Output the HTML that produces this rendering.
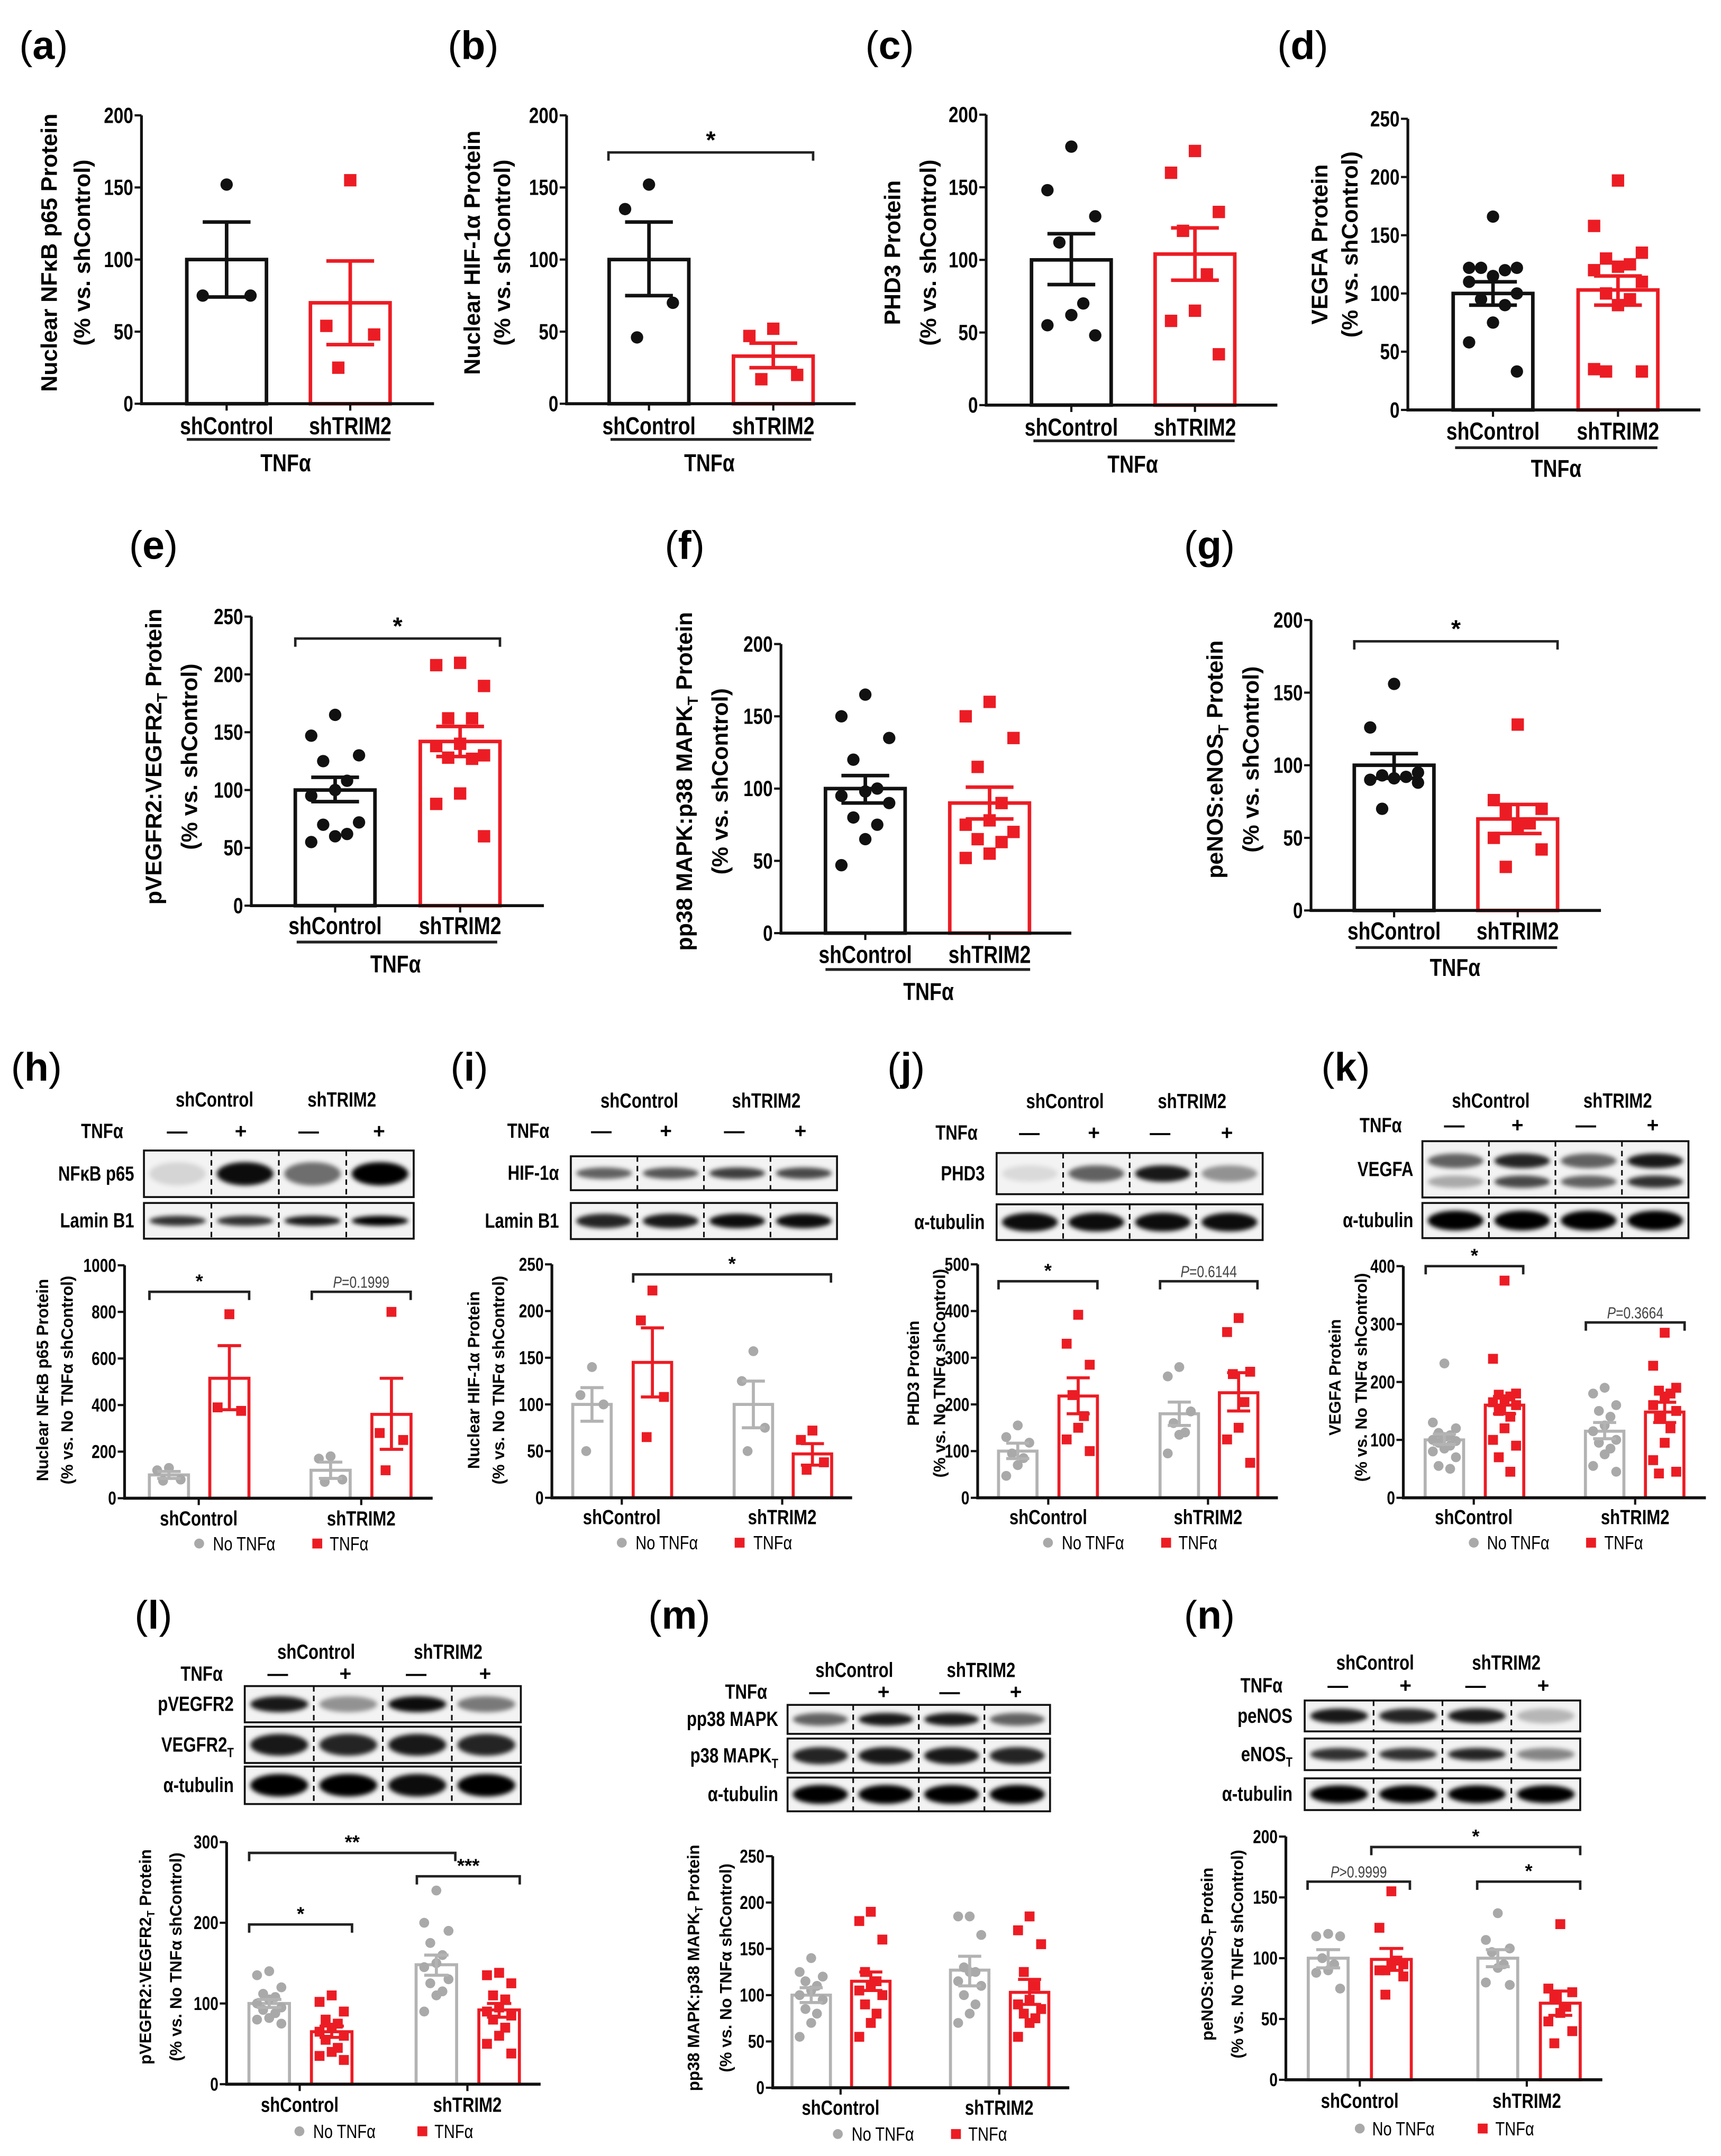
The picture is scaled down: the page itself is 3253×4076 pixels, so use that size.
<!DOCTYPE html>
<html><head><meta charset="utf-8">
<style>
html,body{margin:0;padding:0;background:#fff;}
svg{display:block;}
text{font-family:"Liberation Sans",sans-serif;}
</style></head>
<body>
<svg id="fig" xmlns="http://www.w3.org/2000/svg" width="3253" height="4076" viewBox="0 0 1253 1570" preserveAspectRatio="none">
<defs><filter id="blur" x="-20%" y="-50%" width="140%" height="200%"><feGaussianBlur stdDeviation="1.6"/></filter></defs>
<rect x="0" y="0" width="1253" height="1570" fill="#fff"/>
</svg>
<script>
// ---------- data: top panels (a-g) ----------
const topCats = ["shControl","shTRIM2"];
const a_means=[100,70], a_hi=[126,99], a_lo=[74,41];
const a_pts0=[152,75,75], a_pts1=[155,54,48,25];
const b_means=[100,33], b_hi=[126,42], b_lo=[75,25];
const b_pts0=[152,135,70,46], b_pts1=[52,47,20,17];
const c_means=[100,104], c_hi=[118,122], c_lo=[83,86];
const c_pts0=[178,148,130,112,70,62,55,48], c_pts1=[175,160,133,120,90,65,58,35];
const d_means=[100,103], d_hi=[110,115], d_lo=[90,90];
const d_pts0=[166,122,122,122,120,115,110,100,95,90,75,58,33], d_pts1=[197,158,135,130,125,123,120,110,100,95,90,35,33,33];
const e_means=[100,142], e_hi=[111,155], e_lo=[90,129];
const e_pts0=[165,147,130,125,108,100,95,72,70,62,60,55], e_pts1=[210,208,190,162,162,140,138,130,128,127,97,88,60];
const f_means=[100,90], f_hi=[109,101], f_lo=[90,79];
const f_pts0=[165,150,135,120,100,98,95,90,80,75,65,47], f_pts1=[160,150,135,115,90,78,75,70,65,63,55,52];
const g_means=[100,63], g_hi=[108,73], g_lo=[91,53];
const g_pts0=[156,126,95,93,92,91,90,88,70], g_pts1=[128,76,70,68,60,58,50,42,30];
// ---------- data: lower panels (h-n) ----------
const h_means=[100,515,120,360], h_hi=[115,655,155,515], h_lo=[85,380,85,210];
const h_pts=[[130,120,80,75],[790,390,375],[180,170,80,70],[800,280,250,120]];
const i_means=[100,145,100,47], i_hi=[118,182,125,58], i_lo=[82,108,75,35];
const i_pts=[[140,110,100,50],[222,190,108,65],[157,125,75,50],[72,62,38,30]];
const j_means=[100,218,180,225], j_hi=[117,257,205,268], j_lo=[84,180,155,186];
const j_pts=[[155,130,118,95,85,70,47],[392,330,285,220,175,150,125,100],[280,260,185,160,140,135,95],[385,355,270,265,205,150,125,75]];
const k_means=[100,160,115,148], k_hi=[110,175,130,165], k_lo=[92,145,102,130];
const k_pts=[[232,130,120,112,108,105,100,98,95,90,85,80,70,55,50],[375,240,180,178,175,170,165,160,150,140,120,100,90,70,45],[190,180,160,150,140,125,115,100,95,85,75,55,45],[285,228,190,185,180,175,160,150,140,120,95,65,45,42]];
const l_means=[100,65,148,92], l_hi=[105,72,160,100], l_lo=[95,58,135,83];
const l_pts=[[140,135,120,112,108,105,100,95,92,88,82,80,75],[110,102,90,80,75,70,65,60,55,45,40,35,30],[240,200,190,175,160,150,145,130,125,115,110,90],[138,135,125,110,105,95,90,85,80,70,60,50,38]];
const m_means=[100,115,127,103], m_hi=[108,125,142,117], m_lo=[92,105,110,90];
const m_pts=[[140,125,120,115,110,105,100,95,85,80,70,55],[190,180,160,125,115,110,105,100,90,80,70,55],[185,185,165,130,125,125,115,110,100,90,80,70],[185,170,155,125,110,95,90,85,80,75,70,55]];
const n_means=[100,99,100,63], n_hi=[107,108,107,73], n_lo=[92,90,93,53];
const n_pts=[[120,118,118,100,95,90,88,75],[155,125,95,90,98,95,90,85,70],[137,115,108,105,95,92,80,78],[128,75,72,68,60,55,48,40,30]];

const NS="http://www.w3.org/2000/svg";
const svg=document.getElementById('fig');
const RED="#ec1c24", GRAY="#b3b3b3", GPT="#a9a9a9";
const SQ=0.8;
function mk(tag,attrs,name,parent){
  const e=document.createElementNS(NS,tag);
  for(const k in attrs) e.setAttribute(k,attrs[k]);
  
  
  (parent||svg).appendChild(e);
  return e;
}
function txt(x,y,s,attrs,name,parent){
  attrs=Object.assign({},attrs||{});
  const narrow=attrs.narrow; delete attrs.narrow;
  if(narrow && !attrs.transform) attrs.transform=`translate(${x} ${y}) scale(${SQ} 1) translate(${-x} ${-y})`;
  const t=mk('text',Object.assign({x:x,y:y},attrs),name,parent);
  const parts=s.split('_T');
  parts.forEach((p,i)=>{
    t.appendChild(document.createTextNode(p));
    if(i<parts.length-1){
      const ts=document.createElementNS(NS,'tspan');
      ts.setAttribute('baseline-shift','sub');
      ts.setAttribute('font-size','65%');
      ts.textContent='T';
      t.appendChild(ts);
    }
  });
  return t;
}
function letter(x,y,ch,size){
  const t=mk('text',{x:x,y:y,'font-size':size},'panel-label-'+ch);
  const a=document.createElementNS(NS,'tspan');a.textContent='(';t.appendChild(a);
  const b=document.createElementNS(NS,'tspan');b.setAttribute('font-weight','bold');b.textContent=ch;t.appendChild(b);
  const c=document.createElementNS(NS,'tspan');c.textContent=')';t.appendChild(c);
}
function jitter(i,n,w){
  if(n<=1) return 0;
  const pat=[0,-0.3,0.3,-0.15,0.15];
  return pat[i%5]*w;
}
function sig(g,x1,x2,y,label,fs){
  mk('path',{d:`M${x1},${y+6}V${y}H${x2}V${y+6}`,fill:'none',stroke:'#222','stroke-width':1.8},'significance-bracket',g);
  if(label.startsWith('P')){
    const cx=(x1+x2)/2, cy=y-3;
    const t=mk('text',{x:cx,y:cy,'text-anchor':'middle','font-size':fs*0.85,fill:'#444',transform:`translate(${cx} ${cy}) scale(${SQ} 1) translate(${-cx} ${-cy})`},'p-value-label',g);
    const ti=document.createElementNS(NS,'tspan');ti.setAttribute('font-style','italic');ti.textContent='P';t.appendChild(ti);
    t.appendChild(document.createTextNode(label.slice(1)));
  } else {
    txt((x1+x2)/2,y-3,label,{'text-anchor':'middle','font-size':fs,'font-weight':'bold'},'significance-stars',g);
  }
}
function chart(c){
  const g=mk('g',{},'panel-'+c.id+'-chart');
  const ys=v=>c.y0-(v/c.max)*(c.y0-c.yT);
  c.means.forEach((m,k)=>{
    const cx=c.centers[k], w=c.w, col=c.cols[k];
    mk('rect',{x:cx-w/2,y:ys(m),width:w,height:c.y0-ys(m),fill:'#fff',stroke:col,'stroke-width':c.sw},'bar-'+c.id+'-'+k,g);
  });
  c.means.forEach((m,k)=>{
    const cx=c.centers[k], pts=c.pts[k], col=c.pcols[k];
    pts.forEach((v,i)=>{
      const x=cx+jitter(i,pts.length,c.w), y=ys(v);
      if(c.marks[k]==='c') mk('circle',{cx:x,cy:y,r:c.pr,fill:col},'point-'+c.id+'-'+k,g);
      else mk('rect',{x:x-c.pr,y:y-c.pr,width:2*c.pr,height:2*c.pr,fill:col},'point-'+c.id+'-'+k,g);
    });
  });
  c.means.forEach((m,k)=>{
    const cx=c.centers[k], cw=c.w*0.3, col=c.cols[k];
    mk('path',{d:`M${cx},${ys(c.hi[k])}V${ys(c.lo[k])}M${cx-cw},${ys(c.hi[k])}H${cx+cw}M${cx-cw},${ys(c.lo[k])}H${cx+cw}`,stroke:col,'stroke-width':c.sw,fill:'none'},'error-bar-'+c.id+'-'+k,g);
  });
  mk('line',{x1:c.ax,y1:c.yT,x2:c.ax,y2:c.y0,stroke:'#111','stroke-width':2},'y-axis',g);
  mk('line',{x1:c.ax-1,y1:c.y0,x2:c.xEnd,y2:c.y0,stroke:'#111','stroke-width':2.2},'x-axis',g);
  for(let v=0;v<=c.max+1e-9;v+=c.step){
    mk('line',{x1:c.ax-5,y1:ys(v),x2:c.ax,y2:ys(v),stroke:'#111','stroke-width':1.6},'y-tick',g);
    txt(c.ax-6,ys(v),String(v),{'text-anchor':'end','dominant-baseline':'central','font-size':c.tfs,'font-weight':'bold',narrow:1},'y-tick-label',g);
  }
  c.catX.forEach((x,k)=>{
    mk('line',{x1:x,y1:c.y0,x2:x,y2:c.y0+5,stroke:'#111','stroke-width':1.6},'x-tick',g);
    txt(x,c.catY,topCats[k],{'text-anchor':'middle','dominant-baseline':'central','font-size':c.cfs,'font-weight':'bold',narrow:1},'x-category-label',g);
  });
  const cy=c.tcy;
  c.title.forEach((s,k)=>{
    txt(c.tx[k],cy,s,{'text-anchor':'middle','dominant-baseline':'central','font-size':c.yfs,'font-weight':'bold',transform:`rotate(-90 ${c.tx[k]} ${cy})`},'y-axis-title',g);
  });
  (c.sigs||[]).forEach(s=>sig(g,s[0],s[1],s[2],s[3],c.sfs));
  if(c.tnf){
    mk('line',{x1:c.tnf[0],y1:c.tnf[2],x2:c.tnf[1],y2:c.tnf[2],stroke:'#222','stroke-width':2},'treatment-underline',g);
    txt(c.tnf[3],c.tnf[4],'TNFα',{'text-anchor':'middle','dominant-baseline':'central','font-size':c.cfs,'font-weight':'bold',narrow:1},'treatment-label',g);
  }
  if(c.leg){
    const L=c.leg;
    mk('circle',{cx:L[0],cy:L[4],r:3.6,fill:GPT},'legend-marker-no-tnf',g);
    txt(L[1],L[4],'No TNFα',{'dominant-baseline':'central','font-size':14,narrow:1},'legend-entry-no-tnf',g);
    mk('rect',{x:L[2]-3.6,y:L[4]-3.6,width:7.2,height:7.2,fill:RED},'legend-marker-tnf',g);
    txt(L[3],L[4],'TNFα',{'dominant-baseline':'central','font-size':14,narrow:1},'legend-entry-tnf',g);
  }
}
function topPanel(id,ax,y0,yT,max,centers,xEnd,catY,tnf,title,tx,tcy,means,hi,lo,p0,p1,sigs){
  chart({id,ax,y0,yT,max,step:50,centers,catX:centers,w:58,xEnd,catY,tnf,title,tx,tcy,means,hi,lo,pts:[p0,p1],
    cols:['#111',RED],pcols:['#111',RED],marks:['c','s'],sw:2.6,pr:4.5,tfs:16,cfs:18,yfs:16.5,sfs:18,sigs});
}
topPanel('a',103,294,84,200,[165,255],316,310,[136,284,320,208,337],['Nuclear NFκB p65 Protein','(% vs. shControl)'],[36,60],184,a_means,a_hi,a_lo,a_pts0,a_pts1,[]);
topPanel('b',412.5,294,84,200,[472.5,563],623,310,[444.5,590.6,320,516.5,337],['Nuclear HIF-1α Protein','(% vs. shControl)'],[344,366],184,b_means,b_hi,b_lo,b_pts0,b_pts1,[[443,592,111,'*']]);
topPanel('c',718,295,83.5,200,[780,870],930,311,[752.4,898.9,321,824.7,338],['PHD3 Protein','(% vs. shControl)'],[650,676],184,c_means,c_hi,c_lo,c_pts0,c_pts1,[]);
topPanel('d',1025,298.5,86.5,250,[1087,1178],1238,314,[1059.4,1206.7,326,1133,341],['VEGFA Protein','(% vs. shControl)'],[961,983],178,d_means,d_hi,d_lo,d_pts0,d_pts1,[]);
topPanel('e',183,659.5,449,250,[244,335],396,674,[216,362,686,288,702],['pVEGFR2:VEGFR2_T Protein','(% vs. shControl)'],[112,138],551,e_means,e_hi,e_lo,e_pts0,e_pts1,[[215,364,465,'*']]);
topPanel('f',568.6,679.5,469,200,[630,720.5],780,695,[601,750,706,676,722],['pp38 MAPK:p38 MAPK_T Protein','(% vs. shControl)'],[498.5,524.5],569,f_means,f_hi,f_lo,f_pts0,f_pts1,[]);
topPanel('g',954.5,663,451.5,200,[1015,1105],1165.6,678,[987,1133.7,690,1059.4,704.5],['peNOS:eNOS_T Protein','(% vs. shControl)'],[884.8,911],553,g_means,g_hi,g_lo,g_pts0,g_pts1,[[986,1134,467,'*']]);

function lowPanel(id,ax,y0,yT,max,step,centers,w,xEnd,catX,catY,leg,title,tx,tcy,means,hi,lo,pts,sigs){
  chart({id,ax,y0,yT,max,step,centers,catX,w,xEnd,catY,leg,title,tx,tcy,means,hi,lo,pts,
    cols:[GRAY,RED,GRAY,RED],pcols:[GPT,RED,GPT,RED],marks:['c','s','c','s'],sw:2.2,pr:3.6,tfs:13.5,cfs:15,yfs:12,sfs:14,sigs});
}
lowPanel('h',90.7,1091,921.4,1000,200,[123,167,240.7,285],28.5,315,[144.7,263],1106,[145,155,231,240,1124],['Nuclear NFκB p65 Protein','(% vs. No TNFα shControl)'],[31,49],1005,h_means,h_hi,h_lo,h_pts,[[108.8,181.4,940.7,'*'],[227,299,940.7,'P=0.1999']]);
lowPanel('i',401.8,1090.7,920.7,250,50,[431,475,548.5,591.5],28,620.4,[452.7,569.5],1105,[452.7,462.7,538.5,548.5,1123.4],['Nuclear HIF-1α Protein','(% vs. No TNFα shControl)'],[345,363],1005,i_means,i_hi,i_lo,i_pts,[[461,605,928,'*']]);
lowPanel('j',711.8,1090.7,920.7,500,100,[741,785,858.6,901.8],28,930.4,[763.2,879.5],1105,[763,773,849,858,1123.4],['PHD3 Protein','(% vs. No TNFα shControl)'],[665,684],1000,j_means,j_hi,j_lo,j_pts,[[727,799,933,'*'],[844.6,915.5,933,'P=0.6144']]);
lowPanel('k',1021.7,1090.7,922,400,100,[1051.6,1095.4,1168.3,1212],28,1242,[1073,1190.5],1105,[1073,1082.6,1158.4,1168,1123.4],['VEGFA Protein','(% vs. No TNFα shControl)'],[972,991],1003,k_means,k_hi,k_lo,k_pts,[[1038,1109,922,'*'],[1154.6,1226.5,963,'P=0.3664']]);
lowPanel('l',165,1517.7,1341.4,300,100,[196,241.5,317.7,363.4],29.5,393.6,[218.2,340.3],1533,[218,228,307.5,316.3,1552],['pVEGFR2:VEGFR2_T Protein','(% vs. No TNFα shControl)'],[106,128],1425,l_means,l_hi,l_lo,l_pts,[[181.4,331.5,1349.3,'**'],[303.5,378.4,1366.3,'***'],[181.4,256.3,1401.4,'*']]);
lowPanel('m',562.6,1520.3,1351.7,250,50,[590.6,634,706,749.6],28,778.5,[612,727.5],1535,[610,620,696,705,1554],['pp38 MAPK:p38 MAPK_T Protein','(% vs. No TNFα shControl)'],[505,528.5],1433,m_means,m_hi,m_lo,m_pts,[]);
lowPanel('n',936.2,1514.5,1337.4,200,50,[967,1013,1090.5,1136],29,1166.6,[990,1111.6],1530,[990,999,1079.5,1088.7,1550],['peNOS:eNOS_T Protein','(% vs. No TNFα shControl)'],[879,901],1423,n_means,n_hi,n_lo,n_pts,[[998.4,1150.5,1345,'*'],[952,1026.5,1370.2,'P>0.9999'],[1075.5,1150.5,1370.2,'*']]);

// ---------- western blots (illustrative) ----------
function blot(id,x1,x2,rows,hdr,tnf,signs,labR){
  const g=mk('g',{},'panel-'+id+'-blot');
  txt(hdr[0],hdr[2],'shControl',{'text-anchor':'middle','dominant-baseline':'central','font-size':15,'font-weight':'bold',narrow:1},'blot-group-label',g);
  txt(hdr[1],hdr[2],'shTRIM2',{'text-anchor':'middle','dominant-baseline':'central','font-size':15,'font-weight':'bold',narrow:1},'blot-group-label',g);
  txt(tnf[0],tnf[1],'TNFα',{'text-anchor':'end','dominant-baseline':'central','font-size':15,'font-weight':'bold',narrow:1},'blot-treatment-label',g);
  signs.forEach((x,k)=>txt(x,tnf[1],k%2?'+':'—',{'text-anchor':'middle','dominant-baseline':'central','font-size':15,'font-weight':'bold'},'blot-treatment-sign',g));
  const lw=(x2-x1)/4;
  rows.forEach(r=>{
    mk('rect',{x:x1,y:r.y1,width:x2-x1,height:r.y2-r.y1,fill:'#f3f3f3',stroke:'#111','stroke-width':1.4},'blot-strip',g);
    const h=r.y2-r.y1;
    r.bands.forEach(b=>{
      b.v.forEach((op,k)=>{
        mk('ellipse',{cx:x1+lw*(k+0.5),cy:r.y1+h*b.f,rx:lw*0.42,ry:h*b.h,fill:'#000','fill-opacity':op,filter:'url(#blur)'},'blot-band',g);
      });
    });
    for(let k=1;k<4;k++) mk('line',{x1:x1+lw*k,y1:r.y1,x2:x1+lw*k,y2:r.y2,stroke:'#111','stroke-width':1.2,'stroke-dasharray':'4,3'},'lane-divider',g);
    txt(labR,(r.y1+r.y2)/2,r.label,{'text-anchor':'end','dominant-baseline':'central','font-size':15,'font-weight':'bold',narrow:1},'blot-row-label',g);
  });
}
const B=(v,f,h)=>({v:v,f:f||0.5,h:h||0.22});
blot('h',104.8,301.2,[{y1:837.8,y2:871.7,label:'NFκB p65',bands:[B([0.12,0.95,0.55,1],0.5,0.25)]},{y1:876,y2:902,label:'Lamin B1',bands:[B([0.8,0.8,0.9,1],0.5,0.14)]}],[156.2,248.9,800.9],[89.7,823.9],[129,175.3,224.7,276],97.7);
blot('i',415.6,609.4,[{y1:842,y2:866.7,label:'HIF-1α',bands:[B([0.6,0.65,0.75,0.7],0.5,0.17)]},{y1:876,y2:902.3,label:'Lamin B1',bands:[B([0.85,0.9,0.95,0.95],0.5,0.2)]}],[465.5,557.9,801.6],[400,823.7],[437.8,484.8,534.6,582.8],407);
blot('j',725.6,919.3,[{y1:839.6,y2:869.6,label:'PHD3',bands:[B([0.1,0.6,0.9,0.4],0.5,0.2)]},{y1:877,y2:903,label:'α-tubulin',bands:[B([0.95,0.95,0.95,0.95],0.5,0.26)]}],[775.4,867.9,802],[711.8,825],[749.4,796.4,844.6,893.3],717);
blot('k',1035.6,1229.3,[{y1:831,y2:872,label:'VEGFA',bands:[B([0.6,0.85,0.6,0.9],0.35,0.13),B([0.3,0.7,0.6,0.8],0.72,0.11)]},{y1:876,y2:901.6,label:'α-tubulin',bands:[B([1,1,1,1],0.5,0.28)]}],[1085.4,1177.8,801.6],[1020.6,819.5],[1058.8,1104.8,1154.6,1203.3],1029);
blot('l',178.2,379.2,[{y1:1227.8,y2:1254.2,label:'pVEGFR2',bands:[B([0.9,0.4,0.95,0.5],0.5,0.22)]},{y1:1257.4,y2:1283.8,label:'VEGFR2_T',bands:[B([0.9,0.85,0.9,0.85],0.5,0.3)]},{y1:1286.4,y2:1313.7,label:'α-tubulin',bands:[B([1,1,0.95,1],0.5,0.3)]}],[230.2,326.3,1203],[162.2,1219],[202.2,251.5,303,353.2],170.2);
blot('m',573.4,764.5,[{y1:1241.5,y2:1262.6,label:'pp38 MAPK',bands:[B([0.6,0.9,0.9,0.6],0.5,0.22)]},{y1:1266,y2:1291,label:'p38 MAPK_T',bands:[B([0.85,0.9,0.9,0.85],0.5,0.25)]},{y1:1294.4,y2:1319,label:'α-tubulin',bands:[B([1,1,1,1],0.5,0.28)]}],[622,714.3,1216.4],[558.6,1232.2],[596.6,643.3,691.4,739.6],566.6);
blot('n',949.9,1150.5,[{y1:1238.3,y2:1260.8,label:'peNOS',bands:[B([0.9,0.85,0.9,0.25],0.5,0.24)]},{y1:1266,y2:1289,label:'eNOS_T',bands:[B([0.8,0.8,0.85,0.45],0.5,0.2)]},{y1:1295,y2:1318.1,label:'α-tubulin',bands:[B([1,1,1,1],0.5,0.28)]}],[1001.2,1096.7,1211],[933.8,1227.5],[974,1023.3,1074.3,1123.6],941);

[['a',14,43],['b',326,43],['c',630,43],['d',930,43],['e',94,407],['f',484,407],['g',862,407],['h',8,787],['i',328,787],['j',646,787],['k',962,787],['l',98,1186],['m',472,1186],['n',862,1186]]
  .forEach(p=>letter(p[1],p[2],p[0],29));
</script>
</body></html>
